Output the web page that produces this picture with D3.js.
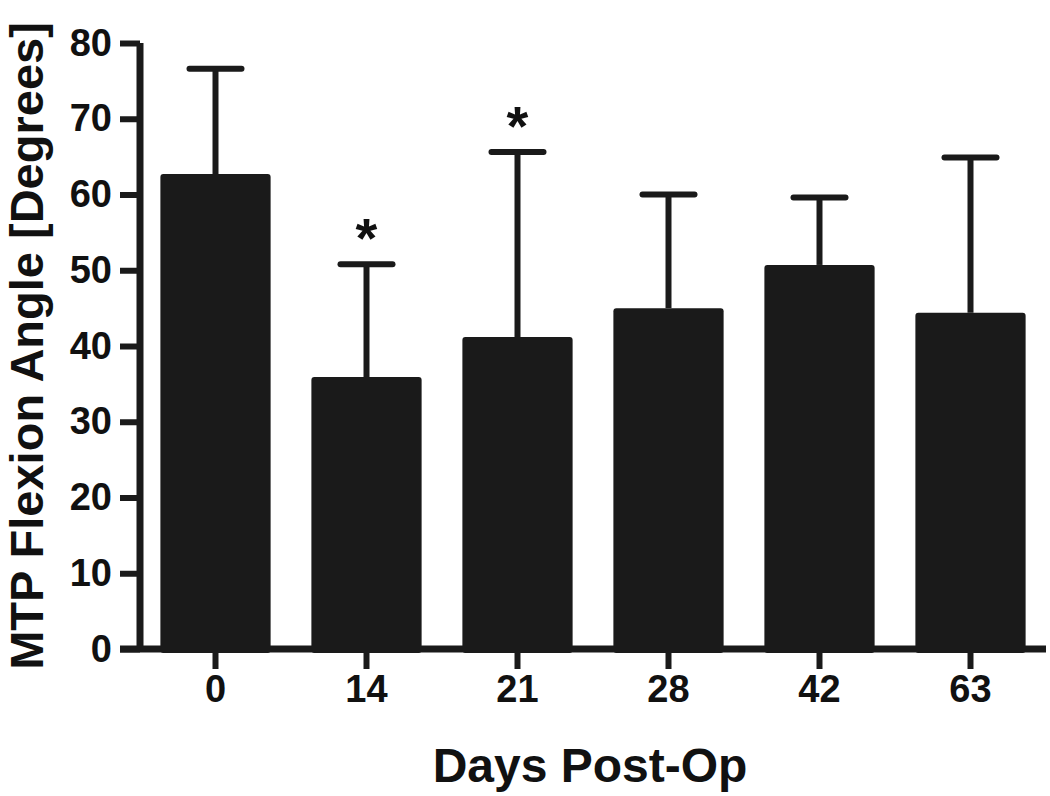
<!DOCTYPE html>
<html lang="en">
<head>
    <meta charset="UTF-8">
    <title>MTP Flexion Angle</title>
    <style>
        body {
            margin: 0;
            background: #ffffff;
            font-family: "Liberation Sans", Arial, sans-serif;
        }
        svg text {
            font-weight: bold;
            fill: #111;
        }
    </style>
</head>
<body>
    <svg id="chart" width="1050" height="796"></svg>
    <script src="https://d3js.org/d3.v7.min.js"></script>
    <script>
        const days = ["0", "14", "21", "28", "42", "63"];
        const means = [62.7, 35.9, 41.2, 45.0, 50.7, 44.4];
        const upperErr = [76.6, 50.8, 65.6, 60.0, 59.6, 64.9];
        const significant = [false, true, true, false, false, false];
        const yTicks = [0, 10, 20, 30, 40, 50, 60, 70, 80];

        const svg = d3.select("#chart");
        const ink = "#1a1a1a";

        const x = d3.scaleBand()
            .domain(days)
            .range([140, 1046])
            .paddingInner(0.27)
            .paddingOuter(0.135);

        const y = d3.scaleLinear()
            .domain([0, 80])
            .range([649, 43]);

        // error bars (drawn first so bars cover stem bottom)
        const capW = 52;
        const err = svg.append("g");
        days.forEach((d, i) => {
            const cx = x(d) + x.bandwidth() / 2;
            err.append("line")
                .attr("x1", cx).attr("x2", cx)
                .attr("y1", y(means[i])).attr("y2", y(upperErr[i]))
                .attr("stroke", ink).attr("stroke-width", 6);
            err.append("line")
                .attr("x1", cx - capW / 2).attr("x2", cx + capW / 2)
                .attr("y1", y(upperErr[i])).attr("y2", y(upperErr[i]))
                .attr("stroke", ink).attr("stroke-width", 6)
                .attr("stroke-linecap", "round");
        });

        // bars
        svg.append("g")
            .selectAll("rect")
            .data(days)
            .join("rect")
            .attr("x", d => x(d))
            .attr("y", (d, i) => y(means[i]))
            .attr("width", x.bandwidth())
            .attr("height", (d, i) => y(0) - y(means[i]) + 4)
            .attr("rx", 3)
            .attr("fill", ink);

        // significance stars
        svg.append("g")
            .selectAll("text")
            .data(days.filter((d, i) => significant[i]))
            .join("text")
            .attr("x", d => x(d) + x.bandwidth() / 2)
            .attr("y", d => y(upperErr[days.indexOf(d)]) - 7)
            .attr("text-anchor", "middle")
            .attr("font-size", 56)
            .text("*");

        // y axis
        const yAxis = svg.append("g")
            .attr("transform", "translate(140,0)")
            .call(d3.axisLeft(y).tickValues(yTicks).tickSize(20).tickPadding(8));
        yAxis.select(".domain")
            .attr("d", `M0,${y(80)}V${y(0)}`)
            .attr("stroke", ink).attr("stroke-width", 7);
        yAxis.selectAll(".tick line").attr("stroke", ink).attr("stroke-width", 6);
        yAxis.selectAll(".tick text")
            .attr("font-size", 38)
            .attr("font-family", "Liberation Sans, Arial, sans-serif")
            .attr("fill", "#111");

        // x axis
        const xAxis = svg.append("g")
            .attr("transform", `translate(0,${y(0)})`)
            .call(d3.axisBottom(x).tickSize(20).tickPadding(6));
        xAxis.select(".domain")
            .attr("d", "M120,0H1046")
            .attr("stroke", ink).attr("stroke-width", 7);
        xAxis.selectAll(".tick line").attr("stroke", ink).attr("stroke-width", 6);
        xAxis.selectAll(".tick text")
            .attr("font-size", 38)
            .attr("font-family", "Liberation Sans, Arial, sans-serif")
            .attr("fill", "#111");

        // axis titles
        svg.append("text")
            .attr("x", 590)
            .attr("y", 782)
            .attr("text-anchor", "middle")
            .attr("font-size", 48)
            .text("Days Post-Op");

        svg.append("text")
            .attr("transform", "translate(43,346) rotate(-90)")
            .attr("text-anchor", "middle")
            .attr("font-size", 47)
            .text("MTP Flexion Angle [Degrees]");
    </script>
</body>
</html>
